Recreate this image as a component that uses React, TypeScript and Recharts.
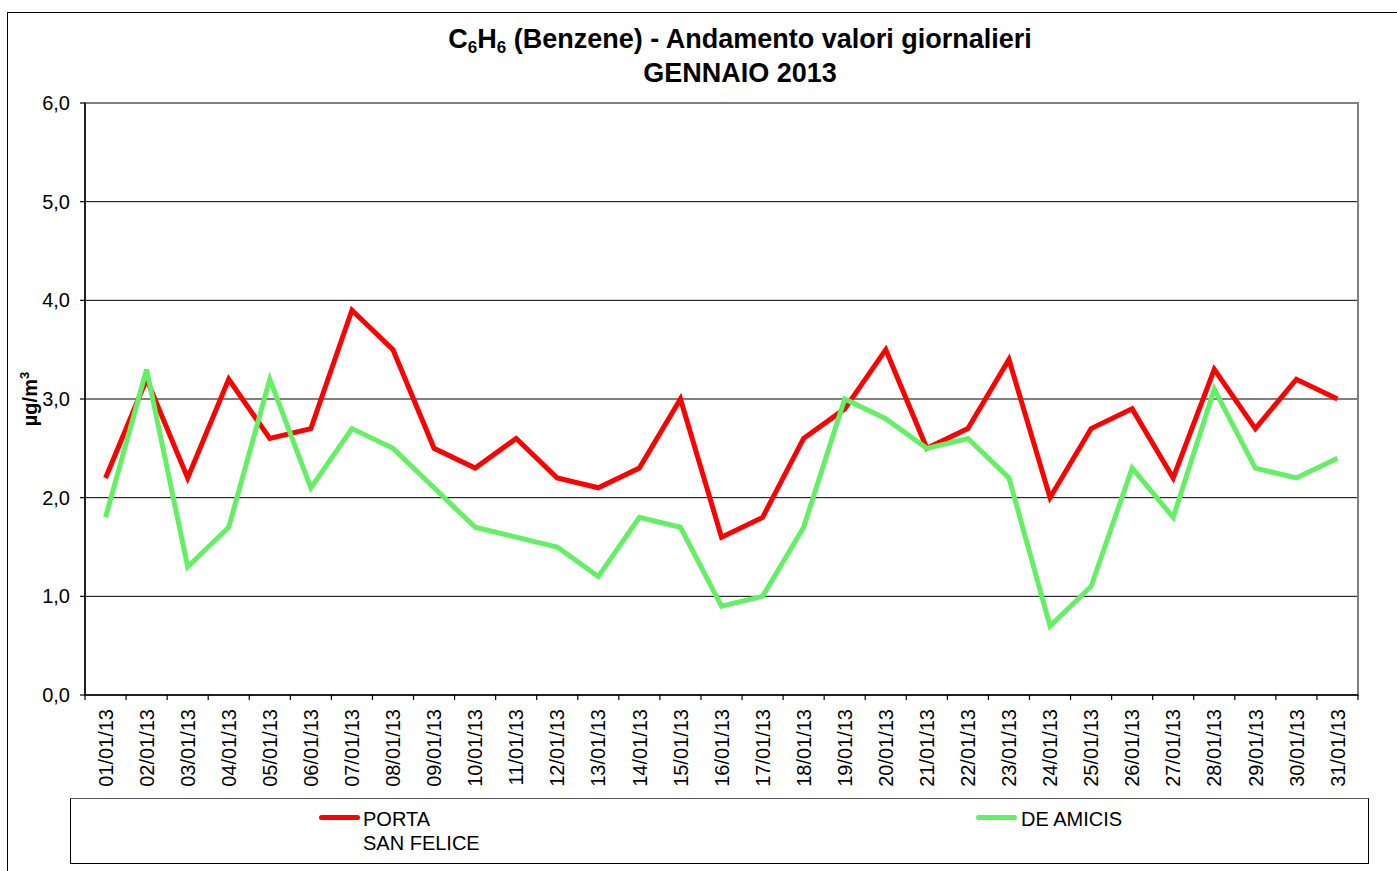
import React from "react";
import {
  CartesianGrid,
  Line,
  LineChart,
  ReferenceArea,
  XAxis,
  YAxis,
} from "recharts";

const DATES = [
  "01/01/13", "02/01/13", "03/01/13", "04/01/13", "05/01/13", "06/01/13", "07/01/13", "08/01/13",
  "09/01/13", "10/01/13", "11/01/13", "12/01/13", "13/01/13", "14/01/13", "15/01/13", "16/01/13",
  "17/01/13", "18/01/13", "19/01/13", "20/01/13", "21/01/13", "22/01/13", "23/01/13", "24/01/13",
  "25/01/13", "26/01/13", "27/01/13", "28/01/13", "29/01/13", "30/01/13", "31/01/13",
];

const PORTA_SAN_FELICE = [
  2.2, 3.2, 2.2, 3.2, 2.6, 2.7, 3.9, 3.5, 2.5, 2.3, 2.6, 2.2, 2.1, 2.3, 3.0, 1.6,
  1.8, 2.6, 2.9, 3.5, 2.5, 2.7, 3.4, 2.0, 2.7, 2.9, 2.2, 3.3, 2.7, 3.2, 3.0,
];

const DE_AMICIS = [
  1.8, 3.3, 1.3, 1.7, 3.2, 2.1, 2.7, 2.5, 2.1, 1.7, 1.6, 1.5, 1.2, 1.8, 1.7, 0.9,
  1.0, 1.7, 3.0, 2.8, 2.5, 2.6, 2.2, 0.7, 1.1, 2.3, 1.8, 3.1, 2.3, 2.2, 2.4,
];

const Y_TICKS = [0, 1, 2, 3, 4, 5, 6];

const RED = "#FF0000";
const GREEN = "#64F064";
const FONT = "'Liberation Sans', Arial, sans-serif";

const data = DATES.map((d, i) => ({
  date: d,
  porta: PORTA_SAN_FELICE[i],
  amicis: DE_AMICIS[i],
}));

const fmt = (v: number) => v.toFixed(1).replace(".", ",");

function DateTick(props: any) {
  const { x, y, payload, index } = props;
  const half = payload && payload.offset ? payload.offset : 1273 / 31 / 2;
  const last = index === DATES.length - 1;
  return (
    <g>
      <line x1={x - half} y1={y} x2={x - half} y2={y + 5} stroke="#000" strokeWidth={1.2} />
      {last && <line x1={x + half} y1={y} x2={x + half} y2={y + 5} stroke="#000" strokeWidth={1.2} />}
      <text
        x={x}
        y={y + 14}
        transform={`rotate(-90, ${x}, ${y + 14})`}
        textAnchor="end"
        dy="0.36em"
        fontSize={20}
        fontFamily={FONT}
        fill="#000"
      >
        {payload.value}
      </text>
    </g>
  );
}

export default function App() {
  return (
    <div
      style={{
        position: "absolute",
        left: 0,
        top: 0,
        width: 1397,
        height: 871,
        overflow: "hidden",
        background: "#fff",
        fontFamily: FONT,
      }}
    >
      {/* outer frame */}
      <div
        style={{
          position: "absolute",
          left: 7,
          top: 12,
          width: 1500,
          height: 1000,
          borderLeft: "1.5px solid #000",
          borderTop: "1.5px solid #000",
        }}
      />

      <div
        style={{
          position: "absolute",
          left: 390,
          width: 700,
          top: 22,
          textAlign: "center",
          fontWeight: "bold",
          fontSize: 27,
          lineHeight: "34px",
          color: "#000",
        }}
      >
        <div>
          C<sub style={{ fontSize: 17, verticalAlign: "-5px", lineHeight: 0 }}>6</sub>H
          <sub style={{ fontSize: 17, verticalAlign: "-5px", lineHeight: 0 }}>6</sub> (Benzene) - Andamento valori giornalieri
        </div>
        <div>GENNAIO 2013</div>
      </div>

      <div
        style={{
          position: "absolute",
          left: 30,
          top: 399,
          transform: "translate(-50%, -50%) rotate(-90deg)",
          fontWeight: "bold",
          fontSize: 20,
          whiteSpace: "nowrap",
        }}
      >
        µg/m<sup style={{ fontSize: 13, lineHeight: 0 }}>3</sup>
      </div>

      <div style={{ position: "absolute", left: 0, top: 0 }}>
        <LineChart
          width={1397}
          height={871}
          data={data}
          margin={{ top: 103, right: 39, bottom: 76, left: 25 }}
        >
          <CartesianGrid vertical={false} stroke="#000" strokeWidth={1} />
          <ReferenceArea y1={0} y2={6} fill="none" stroke="#808080" strokeWidth={2} ifOverflow="extendDomain" />
          <XAxis
            dataKey="date"
            scale="band"
            height={100}
            interval={0}
            tickLine={false}
            tickSize={0}
            tickMargin={0}
            axisLine={{ stroke: "#000", strokeWidth: 1.5 }}
            tick={<DateTick />}
          />
          <YAxis
            width={60}
            domain={[0, 6]}
            ticks={Y_TICKS}
            interval={0}
            tickFormatter={fmt}
            tickSize={5}
            tickMargin={10}
            axisLine={{ stroke: "#000", strokeWidth: 1.5 }}
            tickLine={{ stroke: "#000", strokeWidth: 1.2 }}
            tick={{ fill: "#000", fontSize: 20, fontFamily: FONT }}
          />
          <Line
            dataKey="porta"
            stroke={RED}
            strokeWidth={5}
            strokeLinejoin="miter"
            dot={false}
            activeDot={false}
            isAnimationActive={false}
          />
          <Line
            dataKey="amicis"
            stroke={GREEN}
            strokeWidth={5}
            strokeLinejoin="miter"
            dot={false}
            activeDot={false}
            isAnimationActive={false}
          />
        </LineChart>
      </div>

      {/* legend */}
      <div
        style={{
          position: "absolute",
          left: 70,
          top: 798,
          width: 1297,
          height: 64,
          borderTop: "1.5px solid #555",
          borderLeft: "1.5px solid #000",
          borderRight: "1.5px solid #000",
          borderBottom: "1.5px solid #000",
          fontSize: 20,
          color: "#000",
        }}
      >
        <div style={{ position: "absolute", left: 248, top: 16, width: 41, height: 5, borderRadius: 3, background: RED }} />
        <div style={{ position: "absolute", left: 292, top: 8, lineHeight: "24px" }}>
          PORTA
          <br />
          SAN FELICE
        </div>
        <div style={{ position: "absolute", left: 905, top: 16, width: 41, height: 5, borderRadius: 3, background: GREEN }} />
        <div style={{ position: "absolute", left: 950, top: 8, lineHeight: "24px" }}>DE AMICIS</div>
      </div>
    </div>
  );
}
